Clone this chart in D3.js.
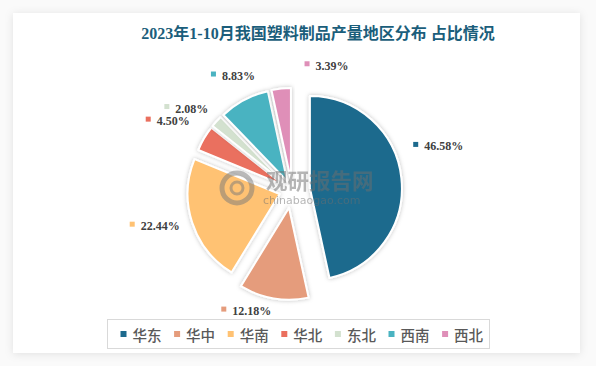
<!DOCTYPE html>
<html>
<head>
<meta charset="utf-8">
<script src="https://cdn.jsdelivr.net/npm/d3@7/dist/d3.min.js"></script>
<style>
  body { margin: 0; background: #fafafa; }
  svg { display: block; }
</style>
</head>
<body>
<script>
// data
const regions = ["华东", "华中", "华南", "华北", "东北", "西南", "西北"];
const shares = [46.58, 12.18, 22.44, 4.50, 2.08, 8.83, 3.39];
const colors = ["#1d6a8d", "#e59c7c", "#ffc273", "#ea6f5e", "#d3e1cf", "#4ab3c1", "#df8fb8"];
const titleText = "2023年1-10月我国塑料制品产量地区分布 占比情况";

// styling: how far each slice is pulled out, and label nudges
const explode = [18, 18, 13, 10, 10, 10, 10];
const labelNudge = [[11, -30], [-23, -14], [-8, -7], [-7, -1], [-5, 9], [5, 5], [49, 10]];

const width = 596, height = 366;
const cx = 292, cy = 190, R = 92, labelR = 136;

const svg = d3.select("body").append("svg")
  .attr("width", width)
  .attr("height", height);

const defs = svg.append("defs");
const card = defs.append("filter").attr("id", "card")
  .attr("x", "-5%").attr("y", "-5%").attr("width", "110%").attr("height", "110%");
card.append("feDropShadow").attr("dx", 0).attr("dy", 1).attr("stdDeviation", 4)
  .attr("flood-color", "#000").attr("flood-opacity", 0.1);

const sliceShadow = defs.append("filter").attr("id", "sliceShadow")
  .attr("x", "-20%").attr("y", "-20%").attr("width", "140%").attr("height", "140%");
sliceShadow.append("feDropShadow").attr("dx", 0).attr("dy", 0).attr("stdDeviation", 2)
  .attr("flood-color", "#000").attr("flood-opacity", 0.25);

// card
svg.append("rect")
  .attr("x", 13).attr("y", 13)
  .attr("width", 567).attr("height", 340)
  .attr("fill", "#fff")
  .attr("filter", "url(#card)");

// title
svg.append("text")
  .attr("x", 318).attr("y", 39)
  .attr("text-anchor", "middle")
  .attr("font-family", "'Liberation Serif', 'Noto Sans CJK SC', serif")
  .attr("font-weight", "bold")
  .attr("font-size", 16)
  .attr("fill", "#1b5e7b")
  .text(titleText);

// pie
const pie = d3.pie().sort(null).value(d => d);
const arcs = pie(shares);
const arc = d3.arc().innerRadius(0).outerRadius(R);

const dirOf = d => {
  const a = (d.startAngle + d.endAngle) / 2;
  return [Math.sin(a), -Math.cos(a)];
};

const slices = svg.append("g")
  .attr("transform", "translate(" + cx + "," + cy + ")");

slices.selectAll("path")
  .data(arcs)
  .enter().append("path")
  .attr("transform", (d, i) => {
    const [dx, dy] = dirOf(d);
    return "translate(" + dx * explode[i] + "," + dy * explode[i] + ")";
  })
  .attr("d", arc)
  .attr("fill", (d, i) => colors[i])
  .attr("stroke", "#fff")
  .attr("stroke-width", 2)
  .attr("stroke-linejoin", "round")
  .attr("filter", "url(#sliceShadow)");

// watermark
const wm = svg.append("g").attr("opacity", 0.5).attr("fill", "#6f6f6f");
wm.append("circle").attr("cx", 237).attr("cy", 188).attr("r", 15)
  .attr("fill", "none").attr("stroke", "#7a7a7a").attr("stroke-width", 5);
wm.append("circle").attr("cx", 237).attr("cy", 188).attr("r", 6)
  .attr("fill", "none").attr("stroke", "#7a7a7a").attr("stroke-width", 3);
wm.append("text")
  .attr("x", 266).attr("y", 189)
  .attr("font-family", "'Noto Sans CJK SC', sans-serif")
  .attr("font-weight", "bold")
  .attr("font-size", 21.5)
  .text("观研报告网");
wm.append("text")
  .attr("x", 263).attr("y", 204)
  .attr("font-family", "'DejaVu Sans', sans-serif")
  .attr("font-size", 11)
  .text("chinabaogao.com");

// data labels
const labels = svg.append("g")
  .attr("font-family", "'Liberation Serif', serif")
  .attr("font-weight", "bold")
  .attr("font-size", 12)
  .attr("fill", "#404040");

arcs.forEach((d, i) => {
  const [dx, dy] = dirOf(d);
  const lx = cx + dx * labelR + labelNudge[i][0];
  const ly = cy + dy * labelR + labelNudge[i][1];
  const g = labels.append("g");
  const t = g.append("text")
    .attr("y", ly + 1)
    .attr("dominant-baseline", "central")
    .text(d3.format(".2f")(shares[i]) + "%");
  const w = t.node().getComputedTextLength() + 11;
  const x0 = lx - w / 2;
  t.attr("x", x0 + 11);
  g.append("rect")
    .attr("x", x0).attr("y", ly - 3.5)
    .attr("width", 5).attr("height", 5)
    .attr("fill", colors[i]);
});

// legend
const legend = svg.append("g");
legend.append("rect")
  .attr("x", 107.5).attr("y", 319.5)
  .attr("width", 382).attr("height", 29)
  .attr("fill", "#fff")
  .attr("stroke", "#d9d9d9");

const item = legend.selectAll("g.item")
  .data(regions)
  .enter().append("g")
  .attr("class", "item")
  .attr("transform", (d, i) => "translate(" + (120.5 + i * 53.6) + ",334)");

item.append("rect")
  .attr("x", 0).attr("y", -3)
  .attr("width", 6).attr("height", 6)
  .attr("fill", (d, i) => colors[i]);

item.append("text")
  .attr("x", 12).attr("y", 0)
  .attr("dominant-baseline", "central")
  .attr("font-family", "'Noto Sans CJK SC', sans-serif")
  .attr("font-weight", 500)
  .attr("font-size", 14.5)
  .attr("fill", "#595959")
  .text(d => d);
</script>
</body>
</html>
